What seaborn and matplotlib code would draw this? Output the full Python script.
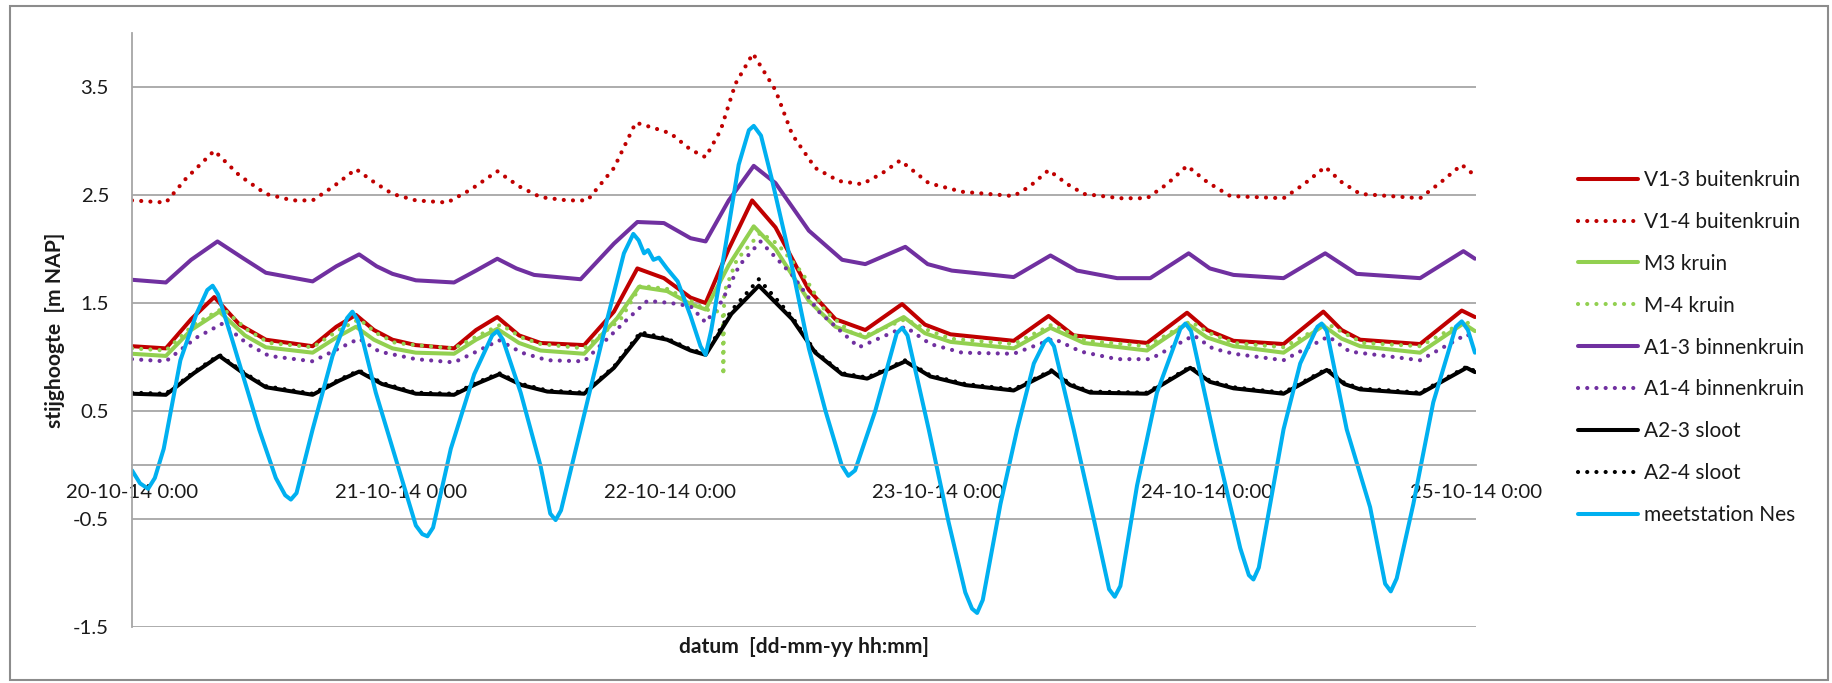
import matplotlib
matplotlib.use("Agg")
import matplotlib.pyplot as plt
from matplotlib.patches import Rectangle
import seaborn as sns

# ---------------- data (days after 20-10-14 0:00, stijghoogte m NAP) ----------------
xtick_pos = [0, 1, 2, 3, 4, 5]
xtick_labels = ["20-10-14 0:00", "21-10-14 0:00", "22-10-14 0:00",
                "23-10-14 0:00", "24-10-14 0:00", "25-10-14 0:00"]
ytick_pos = [-1.5, -0.5, 0.5, 1.5, 2.5, 3.5]

v13_days = [0, 0.126, 0.22, 0.306, 0.40, 0.498, 0.672, 0.76, 0.833, 0.90, 0.969, 1.056, 1.198, 1.28,
            1.359, 1.44, 1.52, 1.682, 1.793, 1.88, 1.979, 2.078, 2.134, 2.22, 2.307, 2.394, 2.518,
            2.617, 2.728, 2.865, 2.95, 3.045, 3.28, 3.41, 3.503, 3.776, 3.925, 4.00, 4.098, 4.284,
            4.432, 4.50, 4.569, 4.792, 4.947, 4.996]
v13_vals = [1.10, 1.08, 1.35, 1.555, 1.30, 1.16, 1.10, 1.28, 1.39, 1.25, 1.16, 1.11, 1.08, 1.25,
            1.37, 1.20, 1.13, 1.11, 1.42, 1.82, 1.73, 1.55, 1.50, 2.00, 2.45, 2.20, 1.62,
            1.35, 1.25, 1.49, 1.30, 1.21, 1.15, 1.38, 1.20, 1.13, 1.41, 1.25, 1.15, 1.12,
            1.42, 1.25, 1.16, 1.12, 1.43, 1.37]

v14_days = [0.0, 0.126, 0.20, 0.306, 0.40, 0.498, 0.597, 0.672, 0.75, 0.833, 0.90, 0.969, 1.056,
            1.173, 1.26, 1.359, 1.44, 1.52, 1.62, 1.694, 1.793, 1.874, 1.942, 2.004, 2.078, 2.134,
            2.19, 2.245, 2.31, 2.394, 2.456, 2.542, 2.629, 2.716, 2.79, 2.858, 2.964, 3.088, 3.28,
            3.34, 3.41, 3.48, 3.541, 3.677, 3.776, 3.85, 3.925, 4.00, 4.086, 4.284, 4.36, 4.439,
            4.50, 4.569, 4.792, 4.87, 4.947, 4.996]
v14_vals = [2.45, 2.43, 2.65, 2.91, 2.68, 2.51, 2.45, 2.45, 2.58, 2.74, 2.62, 2.51, 2.45,
            2.43, 2.55, 2.72, 2.58, 2.48, 2.45, 2.45, 2.75, 3.17, 3.12, 3.07, 2.92, 2.85,
            3.10, 3.53, 3.81, 3.47, 3.06, 2.75, 2.63, 2.60, 2.70, 2.82, 2.61, 2.53, 2.49,
            2.58, 2.73, 2.60, 2.51, 2.47, 2.47, 2.60, 2.77, 2.62, 2.49, 2.47, 2.60, 2.76,
            2.62, 2.51, 2.47, 2.62, 2.78, 2.68]

m3_days = [0, 0.126, 0.22, 0.325, 0.42, 0.498, 0.672, 0.76, 0.833, 0.90, 0.969, 1.056, 1.198, 1.28,
           1.359, 1.44, 1.52, 1.682, 1.805, 1.886, 1.991, 2.078, 2.134, 2.22, 2.313, 2.394, 2.518,
           2.617, 2.728, 2.871, 2.95, 3.045, 3.28, 3.417, 3.541, 3.776, 3.925, 4.00, 4.098, 4.284,
           4.432, 4.50, 4.569, 4.792, 4.953, 4.996]
m3_vals = [1.03, 1.01, 1.25, 1.42, 1.20, 1.09, 1.04, 1.18, 1.28, 1.16, 1.08, 1.04, 1.03, 1.16,
           1.26, 1.13, 1.06, 1.03, 1.36, 1.65, 1.61, 1.49, 1.44, 1.85, 2.21, 2.00, 1.52,
           1.28, 1.18, 1.37, 1.22, 1.14, 1.08, 1.27, 1.13, 1.06, 1.31, 1.18, 1.10, 1.04,
           1.29, 1.17, 1.10, 1.04, 1.31, 1.24]

m4_days = [0, 0.126, 0.23, 0.337, 0.43, 0.51, 0.672, 0.77, 0.845, 0.91, 0.98, 1.056, 1.198, 1.29,
           1.372, 1.45, 1.52, 1.682, 1.818, 1.892, 1.991, 2.078, 2.134, 2.183, 2.198, 2.200, 2.203,
           2.25, 2.338, 2.40, 2.493, 2.58, 2.68, 2.73, 2.877, 2.96, 3.045, 3.28, 3.423, 3.55,
           3.776, 3.937, 4.01, 4.098, 4.284, 4.445, 4.51, 4.58, 4.792, 4.959, 4.996]
m4_vals = [1.08, 1.06, 1.30, 1.45, 1.25, 1.13, 1.09, 1.25, 1.35, 1.22, 1.13, 1.11, 1.08, 1.20,
           1.30, 1.18, 1.12, 1.08, 1.35, 1.66, 1.63, 1.52, 1.44, 1.42, 1.41, 0.83, 1.60,
           1.90, 2.15, 2.05, 1.78, 1.42, 1.22, 1.20, 1.35, 1.25, 1.17, 1.12, 1.30, 1.15,
           1.10, 1.33, 1.22, 1.13, 1.09, 1.31, 1.22, 1.13, 1.10, 1.33, 1.28]

a13_days = [0, 0.126, 0.22, 0.318, 0.41, 0.498, 0.672, 0.76, 0.845, 0.91, 0.969, 1.056, 1.198, 1.28,
            1.359, 1.43, 1.496, 1.669, 1.793, 1.88, 1.979, 2.078, 2.134, 2.22, 2.313, 2.394, 2.518,
            2.642, 2.728, 2.877, 2.96, 3.05, 3.28, 3.417, 3.516, 3.665, 3.788, 3.931, 4.01, 4.098,
            4.284, 4.439, 4.556, 4.792, 4.953, 4.996]
a13_vals = [1.715, 1.69, 1.90, 2.07, 1.92, 1.78, 1.70, 1.84, 1.95, 1.84, 1.77, 1.71, 1.69, 1.80,
            1.91, 1.82, 1.76, 1.72, 2.05, 2.25, 2.24, 2.10, 2.07, 2.45, 2.77, 2.61, 2.17,
            1.90, 1.86, 2.02, 1.86, 1.80, 1.74, 1.94, 1.80, 1.73, 1.73, 1.96, 1.82, 1.76,
            1.73, 1.96, 1.77, 1.73, 1.98, 1.91]

a14_days = [0, 0.126, 0.24, 0.337, 0.43, 0.51, 0.672, 0.77, 0.845, 0.92, 1.056, 1.198, 1.29, 1.366,
            1.45, 1.545, 1.682, 1.843, 1.917, 2.004, 2.078, 2.134, 2.195, 2.26, 2.338, 2.456, 2.555,
            2.704, 2.877, 2.97, 3.088, 3.28, 3.429, 3.53, 3.665, 3.788, 3.95, 4.02, 4.098, 4.284,
            4.451, 4.53, 4.792, 4.965, 4.996]
a14_vals = [0.98, 0.96, 1.18, 1.31, 1.12, 1.01, 0.96, 1.08, 1.17, 1.05, 0.98, 0.95, 1.06, 1.155,
            1.04, 0.97, 0.96, 1.35, 1.52, 1.50, 1.47, 1.32, 1.52, 1.85, 2.07, 1.76, 1.42,
            1.09, 1.28, 1.12, 1.04, 1.03, 1.17, 1.05, 0.98, 0.98, 1.20, 1.08, 1.03, 0.97,
            1.19, 1.05, 0.97, 1.21, 1.17]

a23_days = [0, 0.126, 0.23, 0.325, 0.42, 0.498, 0.672, 0.77, 0.845, 0.93, 1.056, 1.198, 1.28, 1.366,
            1.45, 1.545, 1.682, 1.793, 1.892, 1.991, 2.078, 2.134, 2.23, 2.332, 2.456, 2.542, 2.642,
            2.735, 2.877, 2.97, 3.1, 3.28, 3.423, 3.49, 3.565, 3.776, 3.937, 4.01, 4.098, 4.284,
            4.445, 4.51, 4.569, 4.792, 4.965, 4.996]
a23_vals = [0.66, 0.65, 0.85, 1.01, 0.84, 0.72, 0.65, 0.78, 0.865, 0.75, 0.66, 0.65, 0.75, 0.84,
            0.74, 0.68, 0.66, 0.90, 1.21, 1.16, 1.06, 1.02, 1.40, 1.66, 1.35, 1.04, 0.84,
            0.80, 0.96, 0.82, 0.74, 0.69, 0.87, 0.74, 0.67, 0.66, 0.90, 0.77, 0.71, 0.66,
            0.88, 0.75, 0.70, 0.66, 0.90, 0.86]

a24_days = [0, 0.126, 0.23, 0.325, 0.42, 0.498, 0.672, 0.77, 0.845, 0.93, 1.056, 1.198, 1.28, 1.366,
            1.45, 1.545, 1.682, 1.793, 1.892, 1.991, 2.078, 2.134, 2.23, 2.332, 2.456, 2.542, 2.642,
            2.735, 2.877, 2.97, 3.1, 3.28, 3.423, 3.49, 3.565, 3.776, 3.937, 4.01, 4.098, 4.284,
            4.445, 4.51, 4.569, 4.792, 4.965, 4.996]
a24_vals = [0.67, 0.66, 0.86, 1.02, 0.85, 0.73, 0.66, 0.79, 0.875, 0.76, 0.67, 0.66, 0.76, 0.85,
            0.75, 0.69, 0.67, 0.91, 1.23, 1.17, 1.07, 1.03, 1.43, 1.72, 1.37, 1.05, 0.85,
            0.81, 0.97, 0.83, 0.75, 0.70, 0.88, 0.75, 0.68, 0.67, 0.91, 0.78, 0.72, 0.67,
            0.89, 0.76, 0.71, 0.67, 0.91, 0.87]

nes_days = [0.000, 0.030, 0.060, 0.085, 0.118, 0.180, 0.240, 0.280, 0.300, 0.320, 0.374, 0.473,
            0.535, 0.570, 0.591, 0.612, 0.672, 0.746, 0.800, 0.820, 0.840, 0.907, 1.056, 1.080,
            1.099, 1.120, 1.186, 1.273, 1.340, 1.359, 1.380, 1.446, 1.520, 1.556, 1.576, 1.596,
            1.669, 1.768, 1.830, 1.865, 1.885, 1.905, 1.920, 1.940, 1.960, 1.990, 2.030, 2.078,
            2.115, 2.134, 2.155, 2.208, 2.257, 2.295, 2.313, 2.340, 2.380, 2.456, 2.518, 2.580,
            2.640, 2.665, 2.690, 2.765, 2.845, 2.865, 2.885, 2.964, 3.038, 3.100, 3.125, 3.144,
            3.165, 3.231, 3.293, 3.355, 3.395, 3.410, 3.430, 3.503, 3.578, 3.635, 3.656, 3.677,
            3.739, 3.813, 3.900, 3.919, 3.940, 4.036, 4.123, 4.155, 4.172, 4.192, 4.284, 4.346,
            4.410, 4.426, 4.445, 4.519, 4.606, 4.662, 4.683, 4.705, 4.767, 4.841, 4.925, 4.947,
            4.970, 4.996]
nes_vals = [-0.05, -0.17, -0.22, -0.12, 0.15, 0.97, 1.40, 1.62, 1.66, 1.58, 1.15, 0.33,
            -0.12, -0.28, -0.32, -0.26, 0.33, 1.01, 1.36, 1.42, 1.34, 0.67, -0.56, -0.64,
            -0.66, -0.58, 0.15, 0.84, 1.20, 1.24, 1.16, 0.67, -0.01, -0.45, -0.51, -0.42,
            0.33, 1.35, 1.96, 2.14, 2.08, 1.96, 1.99, 1.90, 1.92, 1.82, 1.70, 1.38,
            1.10, 1.02, 1.25, 2.03, 2.78, 3.10, 3.14, 3.05, 2.65, 1.83, 1.08, 0.50,
            0.00, -0.10, -0.05, 0.50, 1.22, 1.27, 1.20, 0.33, -0.53, -1.18, -1.33, -1.37,
            -1.25, -0.36, 0.33, 0.94, 1.14, 1.17, 1.10, 0.33, -0.50, -1.15, -1.22, -1.12,
            -0.19, 0.67, 1.26, 1.31, 1.24, 0.15, -0.77, -1.02, -1.06, -0.95, 0.33, 0.94,
            1.28, 1.31, 1.24, 0.33, -0.39, -1.10, -1.17, -1.05, -0.36, 0.58, 1.28, 1.33,
            1.25, 1.04]

series_names = ["V1-3 buitenkruin", "V1-4 buitenkruin", "M3 kruin", "M-4 kruin",
                "A1-3 binnenkruin", "A1-4 binnenkruin", "A2-3 sloot", "A2-4 sloot",
                "meetstation Nes"]
y_title = "stijghoogte  [m NAP]"
x_title = "datum  [dd-mm-yy hh:mm]"

# ---------------- style ----------------
sns.set_style("white")
plt.rcParams["font.family"] = ["Lato", "DejaVu Sans"]

RED = "#C00000"
GREEN = "#92D050"
PURPLE = "#7030A0"
BLACK = "#000000"
BLUE = "#00B0F0"
GRID = "#A6A6A6"
TXT = "#1A1A1A"
DOT = (0, (0.01, 2.2))

W, H = 1833, 683
fig = plt.figure(figsize=(W / 100, H / 100), dpi=100)
renderer = fig.canvas.get_renderer()


def fit_size(s, target_px, weight="normal"):
    t = fig.text(0, 0, s, fontsize=20, fontweight=weight)
    w = t.get_window_extent(renderer).width
    t.remove()
    return 20 * target_px / w


def text_height(s, size, weight="normal"):
    t = fig.text(0, 0, s, fontsize=size, fontweight=weight)
    h = t.get_window_extent(renderer).height
    t.remove()
    return h


tick_fs = fit_size("25-10-14 0:00", 132)
leg_fs = fit_size("A1-4 binnenkruin", 162)
ylab_fs = fit_size(y_title, 194, "bold")
xlab_fs = fit_size(x_title, 250, "bold")
lab_fs = (ylab_fs + xlab_fs) / 2

ax = fig.add_axes([132 / W, 1 - 627 / H, (1476 - 132) / W, (627 - 33) / H])

specs = [
    (v13_days, v13_vals, RED, "-", 2.9),
    (v14_days, v14_vals, RED, DOT, 3.0),
    (m3_days, m3_vals, GREEN, "-", 2.9),
    (m4_days, m4_vals, GREEN, DOT, 3.0),
    (a13_days, a13_vals, PURPLE, "-", 2.9),
    (a14_days, a14_vals, PURPLE, DOT, 3.0),
    (a23_days, a23_vals, BLACK, "-", 2.9),
    (a24_days, a24_vals, BLACK, DOT, 3.0),
    (nes_days, nes_vals, BLUE, "-", 2.9),
]

handles = []
for (d, v, col, ls, lw), name in zip(specs, series_names):
    sns.lineplot(x=d, y=v, ax=ax, color=col, linestyle=ls, linewidth=lw,
                 sort=False, estimator=None, dash_capstyle="round",
                 solid_capstyle="round", solid_joinstyle="round")
    handles.append(ax.lines[-1])

ax.set_xlim(0, 5)
ax.set_ylim(-1.5, 4.0)
ax.set_xticks(xtick_pos)
ax.set_xticklabels(xtick_labels)
ax.set_yticks(ytick_pos)
ax.set_yticklabels([f"{t:.1f}" for t in ytick_pos])

ax.grid(axis="y", color=GRID, linewidth=1.3)
ax.grid(axis="x", visible=False)
ax.set_axisbelow(True)

for s in ["top", "right"]:
    ax.spines[s].set_visible(False)
ax.spines["left"].set_color(GRID)
ax.spines["left"].set_linewidth(1.3)
ax.spines["bottom"].set_position(("data", 0))
ax.spines["bottom"].set_color(GRID)
ax.spines["bottom"].set_linewidth(1.3)

# x labels: centre about 28 px below the y=0 axis line
tick_h = text_height("25-10-14 0:00", tick_fs)
xpad_px = 28 - tick_h / 2 - 5
ax.tick_params(axis="x", direction="out", length=5 * 0.72, width=1.2, color=GRID,
               pad=xpad_px * 0.72, labelsize=tick_fs, labelcolor=TXT)
ax.tick_params(axis="y", direction="out", length=5 * 0.72, width=1.2, color=GRID,
               pad=18 * 0.72, labelsize=tick_fs, labelcolor=TXT)
ax.set_xlabel("")
ax.set_ylabel("")

fig.text(55 / W, 1 - 330 / H, y_title, rotation=90, ha="center",
         va="center", fontsize=lab_fs, fontweight="bold", color=TXT)
fig.text(804 / W, 1 - 647 / H, x_title, ha="center", va="center",
         fontsize=lab_fs, fontweight="bold", color=TXT)

leg_px = leg_fs * 100 / 72
row_h = text_height("A1-4 binnenkruin", leg_fs)
leg = ax.legend(handles, series_names, loc="upper left",
                bbox_to_anchor=(1578 / W, 1 - (180 - row_h / 2) / H),
                bbox_transform=fig.transFigure,
                frameon=False, fontsize=leg_fs, handlelength=60 / leg_px,
                handletextpad=6 / leg_px, labelspacing=(41.9 - row_h) / leg_px,
                borderpad=0, borderaxespad=0)
for t in leg.get_texts():
    t.set_color(TXT)

fig.patches.append(Rectangle((10 / W, 3 / H), (1828 - 10) / W, (680 - 6) / H,
                             transform=fig.transFigure, fill=False,
                             edgecolor="#8C8C8C", linewidth=1.5))

fig.savefig("out.png", dpi=100)
